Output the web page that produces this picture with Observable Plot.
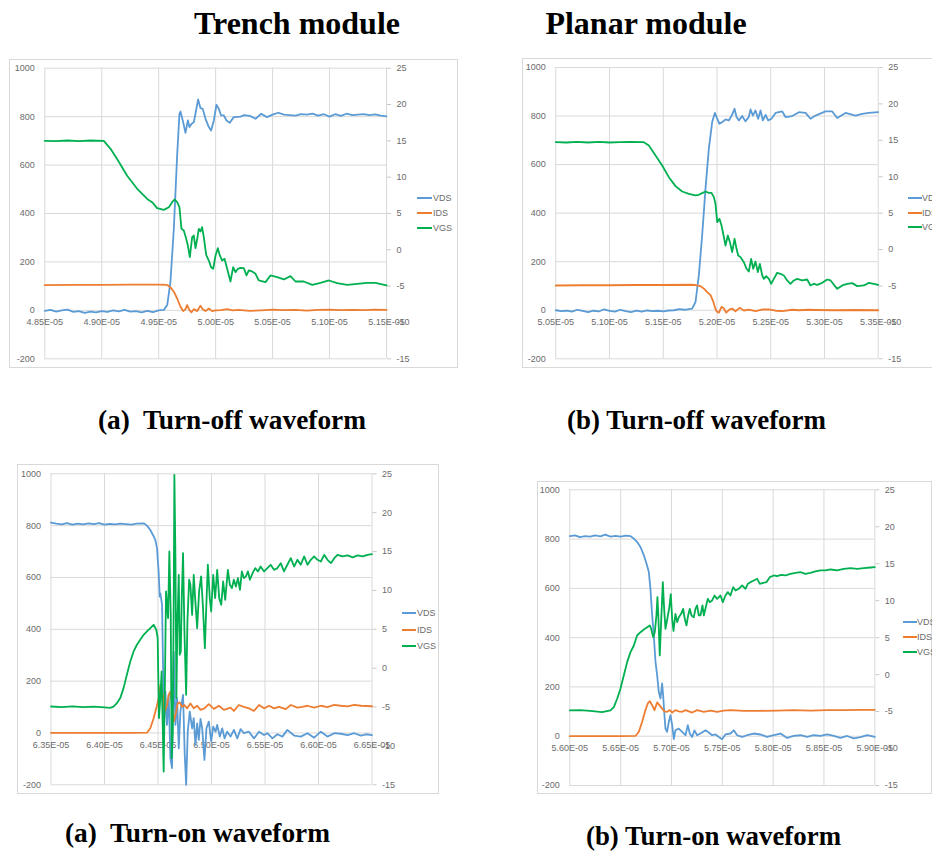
<!DOCTYPE html>
<html>
<head>
<meta charset="utf-8">
<script src="https://cdn.jsdelivr.net/npm/d3@7"></script>
<script src="https://cdn.jsdelivr.net/npm/@observablehq/plot@0.6"></script>
<style>
  html, body { margin: 0; padding: 0; background: #fff; }
  body { position: relative; width: 932px; height: 852px; overflow: hidden; }
  .box { position: absolute; border: 1px solid #d9d9d9; box-sizing: border-box; }
  .chart { position: absolute; }
  .lgline { position: absolute; height: 2px; width: 14px; }
  .lgtext { position: absolute; font: 9px "Liberation Sans", Arial, sans-serif; color: #6b6b6b; line-height: 12px; white-space: nowrap; }
  #txt { position: absolute; left: 0; top: 0; }
</style>
</head>
<body>
<svg id="txt" width="932" height="852">
  <g font-family="'Liberation Serif','Times New Roman',serif" font-weight="bold" fill="#000">
    <text x="297" y="34" text-anchor="middle" font-size="32">Trench module</text>
    <text x="646" y="34" text-anchor="middle" font-size="32">Planar module</text>
    <text x="98" y="429" font-size="27" textLength="268" lengthAdjust="spacingAndGlyphs" style="white-space:pre">(a)  Turn-off waveform</text>
    <text x="567" y="429" font-size="27" textLength="259" lengthAdjust="spacingAndGlyphs" style="white-space:pre">(b) Turn-off waveform</text>
    <text x="65" y="842" font-size="27" textLength="265" lengthAdjust="spacingAndGlyphs" style="white-space:pre">(a)  Turn-on waveform</text>
    <text x="586" y="845" font-size="27" textLength="255" lengthAdjust="spacingAndGlyphs" style="white-space:pre">(b) Turn-on waveform</text>
  </g>
</svg>
<script>
// ---------- axis ticks ----------
const leftTicks = [-200, 0, 200, 400, 600, 800, 1000];
const vgsTicks = [-15, -10, -5, 0, 5, 10, 15, 20, 25];
const trenchOffTicks = [48.5, 49.0, 49.5, 50.0, 50.5, 51.0, 51.5];   // µs
const planarOffTicks = [50.5, 51.0, 51.5, 52.0, 52.5, 53.0, 53.5];
const trenchOnTicks  = [63.5, 64.0, 64.5, 65.0, 65.5, 66.0, 66.5];
const planarOnTicks  = [56.0, 56.5, 57.0, 57.5, 58.0, 58.5, 59.0];
const seriesNames = ["VDS", "IDS", "VGS"];
const seriesColors = ["#5B9BD5", "#ED7D31", "#00B050"];

// ---------- (a) Trench turn-off : [t (µs), value] ----------
const trenchOffVDS = [[48.50,-2],[48.55,2],[48.60,-5],[48.65,0],[48.70,3],[48.75,-6],[48.80,-3],[48.85,-10],[48.90,-5],[48.95,-8],[49.00,-3],[49.05,-6],[49.10,0],[49.15,-4],[49.20,2],[49.25,-5],[49.30,-3],[49.35,-8],[49.40,-2],[49.45,-7],[49.50,0],[49.545,2],[49.575,22],[49.603,118],[49.633,338],[49.662,640],[49.682,812],[49.691,821],[49.715,777],[49.735,733],[49.756,784],[49.770,757],[49.788,770],[49.808,777],[49.823,812],[49.846,871],[49.867,835],[49.887,832],[49.911,791],[49.940,757],[49.960,743],[49.984,784],[50.007,849],[50.028,832],[50.048,805],[50.072,805],[50.095,784],[50.124,775],[50.159,798],[50.218,800],[50.25,806],[50.30,803],[50.35,791],[50.40,812],[50.45,798],[50.50,808],[50.55,816],[50.60,808],[50.65,806],[50.70,804],[50.75,810],[50.80,808],[50.85,812],[50.90,804],[50.95,810],[51.00,800],[51.05,810],[51.10,803],[51.15,812],[51.20,806],[51.25,808],[51.30,810],[51.35,806],[51.40,809],[51.45,804],[51.50,801]];
const trenchOffIDS = [[48.50,104],[48.75,105],[49.00,105],[49.25,106],[49.50,106],[49.574,105],[49.603,95],[49.633,77],[49.662,49],[49.691,15],[49.715,-3],[49.735,5],[49.750,22],[49.770,1],[49.788,-8],[49.808,5],[49.838,-3],[49.867,19],[49.887,5],[49.911,-3],[49.940,8],[49.969,-3],[49.999,0],[50.05,1],[50.101,5],[50.15,0],[50.20,2],[50.30,-2],[50.40,0],[50.50,3],[50.60,1],[50.70,2],[50.80,-1],[50.90,2],[51.00,3],[51.10,1],[51.20,2],[51.30,1],[51.40,3],[51.50,2]];
const trenchOffVGS = [[48.50,15.0],[48.60,14.95],[48.70,15.05],[48.80,14.95],[48.90,15.05],[49.018,15.0],[49.077,13.9],[49.135,12.5],[49.223,10.2],[49.311,8.4],[49.399,7.0],[49.442,6.56],[49.486,5.73],[49.545,5.50],[49.589,5.87],[49.618,6.56],[49.639,6.93],[49.662,6.56],[49.682,5.87],[49.700,2.89],[49.720,2.66],[49.738,1.74],[49.756,0.60],[49.773,-1.01],[49.794,1.74],[49.808,1.97],[49.823,0.23],[49.838,1.51],[49.852,2.89],[49.867,2.52],[49.881,3.12],[49.896,1.74],[49.917,-0.69],[49.940,-1.47],[49.960,-2.39],[49.978,-2.61],[49.999,-0.78],[50.019,0.23],[50.037,-0.78],[50.057,-1.47],[50.078,-1.24],[50.101,-2.61],[50.130,-4.36],[50.154,-2.39],[50.174,-3.07],[50.195,-2.61],[50.218,-2.48],[50.247,-2.52],[50.271,-3.53],[50.291,-2.84],[50.320,-2.98],[50.350,-3.30],[50.379,-4.22],[50.438,-4.45],[50.481,-3.53],[50.540,-3.76],[50.599,-4.08],[50.657,-3.62],[50.701,-4.36],[50.774,-4.36],[50.847,-4.82],[50.920,-4.54],[50.994,-4.22],[51.067,-4.59],[51.155,-4.82],[51.242,-4.68],[51.330,-4.54],[51.403,-4.54],[51.500,-4.91]];

// ---------- (b) Planar turn-off ----------
const planarOffVDS = [[50.50,0],[50.55,-4],[50.60,-2],[50.65,-6],[50.70,2],[50.75,-3],[50.80,-8],[50.85,-2],[50.90,-5],[50.95,4],[51.00,-3],[51.05,-6],[51.10,2],[51.15,-4],[51.20,-8],[51.25,-2],[51.30,-6],[51.35,-1],[51.40,-4],[51.45,-2],[51.50,-5],[51.55,-1],[51.60,0],[51.65,5],[51.70,2],[51.738,5],[51.769,7],[51.800,34],[51.831,144],[51.862,309],[51.893,501],[51.924,665],[51.955,775],[51.980,813],[52.002,789],[52.023,768],[52.048,775],[52.079,786],[52.110,782],[52.141,805],[52.163,830],[52.182,796],[52.203,782],[52.234,800],[52.265,778],[52.296,796],[52.312,827],[52.334,802],[52.358,823],[52.383,789],[52.405,823],[52.427,782],[52.452,805],[52.476,782],[52.507,789],[52.545,813],[52.607,819],[52.638,796],[52.700,800],[52.762,816],[52.824,813],[52.870,789],[52.917,802],[53.010,819],[53.072,819],[53.119,792],[53.196,813],[53.289,802],[53.351,809],[53.413,813],[53.500,816]];
const planarOffIDS = [[50.50,102],[50.75,103],[51.00,103],[51.25,104],[51.50,104],[51.75,105],[51.800,104],[51.847,99],[51.878,89],[51.909,75],[51.940,62],[51.961,41],[51.980,14],[51.995,-4],[52.017,-10],[52.042,14],[52.064,7],[52.085,-10],[52.117,4],[52.141,7],[52.172,-4],[52.210,10],[52.250,-1],[52.296,3],[52.358,-4],[52.420,3],[52.483,4],[52.545,-2],[52.607,-4],[52.70,2],[52.762,0],[52.85,2],[52.917,1],[53.10,0],[53.30,1],[53.50,0]];
const planarOffVGS = [[50.50,14.75],[50.60,14.7],[50.70,14.8],[50.80,14.7],[50.90,14.8],[51.00,14.7],[51.10,14.75],[51.20,14.8],[51.319,14.75],[51.366,14.29],[51.428,12.92],[51.490,11.54],[51.552,9.94],[51.614,8.71],[51.676,7.97],[51.738,7.65],[51.800,7.43],[51.831,7.52],[51.862,7.75],[51.893,7.97],[51.924,7.79],[51.949,7.79],[51.971,7.20],[51.986,6.28],[52.002,3.76],[52.023,4.22],[52.042,3.31],[52.061,1.93],[52.079,0.56],[52.101,1.93],[52.120,1.02],[52.141,-0.35],[52.163,1.48],[52.182,0.10],[52.197,-0.81],[52.219,-1.04],[52.250,-1.73],[52.275,-2.64],[52.296,-3.01],[52.318,-1.27],[52.337,-2.64],[52.358,-1.64],[52.380,-3.10],[52.399,-1.96],[52.421,-3.56],[52.436,-4.02],[52.458,-3.65],[52.483,-4.02],[52.504,-4.70],[52.529,-4.02],[52.560,-3.19],[52.591,-3.33],[52.622,-3.56],[52.653,-4.24],[52.684,-4.70],[52.715,-4.24],[52.746,-4.02],[52.793,-4.24],[52.839,-4.11],[52.870,-4.93],[52.902,-4.70],[52.933,-4.84],[52.979,-4.57],[53.026,-4.11],[53.057,-4.24],[53.088,-4.84],[53.119,-5.39],[53.166,-4.93],[53.212,-4.70],[53.258,-4.61],[53.305,-5.02],[53.367,-4.93],[53.413,-4.57],[53.460,-4.70],[53.500,-4.84]];

// ---------- (a) Trench turn-on ----------
const trenchOnVDS = [[63.50,812],[63.55,808],[63.60,805],[63.65,810],[63.70,804],[63.75,808],[63.80,805],[63.85,809],[63.90,806],[63.95,810],[64.00,804],[64.05,807],[64.10,805],[64.15,808],[64.20,806],[64.25,804],[64.30,808],[64.366,809],[64.397,800],[64.428,783],[64.453,764],[64.475,745],[64.491,712],[64.506,622],[64.516,526],[64.522,539],[64.538,494],[64.547,262],[64.559,57],[64.569,160],[64.584,31],[64.600,147],[64.616,-98],[64.631,-136],[64.647,314],[64.663,31],[64.678,134],[64.694,-59],[64.709,82],[64.734,147],[64.750,-85],[64.763,-200],[64.778,5],[64.797,82],[64.819,18],[64.834,57],[64.850,-46],[64.866,37],[64.881,-27],[64.897,54],[64.913,18],[64.934,-104],[64.953,18],[64.975,44],[64.997,-33],[65.016,24],[65.038,5],[65.053,31],[65.078,-14],[65.100,18],[65.122,-21],[65.147,5],[65.178,-14],[65.209,12],[65.241,-21],[65.272,15],[65.303,-1],[65.350,5],[65.397,-21],[65.444,5],[65.491,-8],[65.522,-1],[65.569,-21],[65.616,-5],[65.663,-14],[65.709,12],[65.772,-10],[65.834,-14],[65.897,-1],[65.959,-18],[66.022,5],[66.084,-14],[66.147,-1],[66.209,-3],[66.272,-8],[66.334,-1],[66.397,-10],[66.444,-5],[66.500,-8]];
const trenchOnIDS = [[63.50,0],[63.75,0],[64.00,0],[64.25,0],[64.397,1],[64.428,18],[64.459,57],[64.484,95],[64.506,134],[64.522,185],[64.544,147],[64.563,82],[64.584,108],[64.600,147],[64.616,160],[64.631,108],[64.647,44],[64.663,69],[64.684,114],[64.703,118],[64.725,101],[64.747,108],[64.772,95],[64.803,114],[64.834,95],[64.866,105],[64.897,89],[64.934,95],[64.975,111],[65.022,93],[65.069,105],[65.116,89],[65.178,98],[65.209,85],[65.256,108],[65.303,101],[65.350,95],[65.397,85],[65.444,108],[65.491,95],[65.538,105],[65.584,95],[65.631,101],[65.694,92],[65.741,108],[65.803,98],[65.850,101],[65.897,105],[65.959,98],[66.022,105],[66.084,100],[66.147,108],[66.209,105],[66.272,103],[66.334,108],[66.397,105],[66.500,103]];
const trenchOnVGS = [[63.50,-4.93],[63.60,-5.0],[63.70,-4.9],[63.80,-5.0],[63.90,-4.95],[64.00,-5.05],[64.053,-5.1],[64.084,-4.95],[64.116,-4.50],[64.147,-3.85],[64.178,-2.57],[64.209,-0.85],[64.241,0.86],[64.272,2.15],[64.303,3.01],[64.334,3.65],[64.366,4.29],[64.397,4.72],[64.428,5.15],[64.459,5.58],[64.484,4.94],[64.497,3.86],[64.509,-6.43],[64.522,-3.85],[64.534,-0.42],[64.544,-7.28],[64.553,-13.29],[64.566,-0.42],[64.575,9.87],[64.584,8.15],[64.594,6.44],[64.606,15.01],[64.619,6.86],[64.628,-11.57],[64.638,-8.14],[64.647,9.01],[64.653,24.87],[64.663,14.15],[64.672,-3.85],[64.681,5.58],[64.694,12.01],[64.703,1.72],[64.713,2.15],[64.722,9.01],[64.734,14.80],[64.747,4.72],[64.763,-3.42],[64.775,6.01],[64.791,11.37],[64.803,10.72],[64.819,6.86],[64.834,12.01],[64.847,9.01],[64.866,5.15],[64.884,9.87],[64.903,11.80],[64.919,8.15],[64.938,2.58],[64.953,8.58],[64.966,13.30],[64.984,9.01],[64.997,7.29],[65.016,12.01],[65.034,9.01],[65.053,12.65],[65.072,9.01],[65.091,8.15],[65.109,11.15],[65.128,8.79],[65.153,12.65],[65.172,10.72],[65.191,10.29],[65.209,11.37],[65.228,10.50],[65.247,11.58],[65.266,10.08],[65.284,12.44],[65.303,11.58],[65.322,11.80],[65.341,12.44],[65.359,11.37],[65.384,12.22],[65.409,12.87],[65.434,12.44],[65.459,13.08],[65.491,12.44],[65.522,12.87],[65.553,13.30],[65.584,12.65],[65.616,12.87],[65.647,13.51],[65.678,12.44],[65.709,13.30],[65.741,14.15],[65.772,13.08],[65.803,13.94],[65.834,13.30],[65.866,14.37],[65.897,13.30],[65.928,13.94],[65.959,14.37],[65.991,13.94],[66.022,13.72],[66.053,14.58],[66.084,13.94],[66.116,13.51],[66.147,14.15],[66.178,14.58],[66.225,14.37],[66.272,14.50],[66.319,14.24],[66.366,14.50],[66.412,14.37],[66.459,14.58],[66.500,14.67]];

// ---------- (b) Planar turn-on ----------
const planarOnVDS = [[56.00,812],[56.05,815],[56.10,808],[56.15,812],[56.20,810],[56.25,815],[56.30,811],[56.35,818],[56.40,810],[56.45,813],[56.50,810],[56.55,814],[56.597,812],[56.630,802],[56.662,789],[56.695,768],[56.728,735],[56.754,701],[56.777,667],[56.793,599],[56.810,491],[56.826,410],[56.843,302],[56.859,248],[56.875,180],[56.892,153],[56.908,214],[56.918,166],[56.931,85],[56.941,31],[56.957,18],[56.974,58],[56.990,85],[57.007,45],[57.023,-12],[57.039,24],[57.072,31],[57.105,18],[57.138,4],[57.161,45],[57.180,11],[57.203,-3],[57.226,24],[57.252,4],[57.285,11],[57.334,24],[57.367,15],[57.400,4],[57.433,7],[57.466,-3],[57.498,-12],[57.531,7],[57.580,11],[57.613,24],[57.646,4],[57.695,-3],[57.744,4],[57.810,11],[57.875,7],[57.941,-3],[58.007,4],[58.072,11],[58.138,-7],[58.203,1],[58.269,4],[58.334,-3],[58.400,4],[58.466,1],[58.531,7],[58.597,1],[58.662,-7],[58.728,1],[58.793,-9],[58.859,-4],[58.925,4],[59.000,-3]];
const planarOnIDS = [[56.00,0],[56.25,0],[56.50,0],[56.646,1],[56.679,18],[56.711,58],[56.744,106],[56.767,133],[56.787,142],[56.810,126],[56.833,106],[56.859,137],[56.882,126],[56.908,112],[56.931,101],[56.957,99],[56.984,106],[57.007,96],[57.039,106],[57.072,101],[57.105,99],[57.138,106],[57.203,96],[57.252,106],[57.318,99],[57.384,104],[57.449,99],[57.515,104],[57.580,106],[57.711,103],[57.843,103],[58.039,104],[58.203,106],[58.367,104],[58.531,106],[58.695,106],[58.859,107],[59.000,107]];
const planarOnVGS = [[56.00,-4.85],[56.10,-4.8],[56.20,-4.9],[56.318,-5.08],[56.400,-4.85],[56.433,-4.40],[56.466,-3.27],[56.498,-1.92],[56.531,-0.12],[56.564,1.69],[56.597,3.04],[56.630,3.94],[56.662,5.29],[56.695,5.74],[56.728,6.10],[56.761,6.42],[56.787,6.65],[56.800,6.20],[56.820,5.07],[56.836,5.74],[56.852,8.00],[56.862,10.48],[56.872,7.55],[56.885,2.59],[56.898,7.0],[56.915,12.51],[56.928,8.9],[56.941,6.20],[56.960,7.6],[56.978,9.0],[56.993,10.9],[57.007,7.5],[57.020,5.9],[57.039,8.22],[57.056,7.10],[57.072,7.77],[57.095,8.22],[57.115,8.90],[57.131,7.55],[57.148,6.65],[57.164,8.00],[57.180,8.90],[57.197,8.00],[57.220,7.77],[57.236,8.90],[57.252,9.35],[57.269,8.00],[57.285,8.00],[57.305,9.35],[57.318,8.00],[57.334,8.90],[57.357,10.25],[57.377,9.80],[57.400,10.03],[57.423,10.70],[57.449,10.25],[57.482,10.70],[57.505,9.80],[57.531,10.70],[57.554,11.16],[57.580,10.70],[57.607,11.83],[57.630,11.38],[57.662,11.61],[57.695,12.06],[57.728,11.61],[57.751,12.28],[57.777,12.51],[57.810,12.73],[57.843,12.96],[57.869,12.28],[57.902,12.42],[57.934,12.51],[57.967,13.18],[58.007,13.41],[58.039,13.32],[58.079,13.50],[58.121,13.41],[58.170,13.64],[58.220,13.77],[58.269,13.86],[58.318,13.64],[58.367,13.77],[58.416,13.95],[58.466,14.09],[58.515,14.09],[58.564,14.22],[58.630,14.09],[58.695,14.31],[58.761,14.40],[58.826,14.31],[58.892,14.40],[58.957,14.49],[59.000,14.54]];

// secondary (VGS) axis mapped onto the primary scale: -15..25 <-> -200..1000
const toLeft = v => (v + 15) * 30 - 200;
const fromLeft = y => (y + 200) / 30 - 15;
const fmtX = d => (d / 10).toFixed(2) + "E-05";
const FONT = "'Liberation Sans', Arial, sans-serif";

function panel(cfg) {
  const xt = cfg.ticks;
  const box = document.createElement("div");
  box.className = "box";
  Object.assign(box.style, {left: cfg.left + "px", top: cfg.top + "px", width: cfg.w + "px", height: cfg.h + "px"});
  document.body.appendChild(box);

  const svg = Plot.plot({
    width: cfg.w, height: cfg.h,
    marginLeft: cfg.ml, marginRight: cfg.mr, marginTop: cfg.mt, marginBottom: cfg.mb,
    x: {domain: [xt[0], xt[xt.length - 1]], axis: null},
    y: {domain: [-200, 1000], axis: null},
    style: {fontFamily: FONT, fontSize: "9px", color: "#6b6b6b", background: "none", overflow: "visible"},
    marks: [
      Plot.gridY(leftTicks, {stroke: "#d9d9d9", strokeOpacity: 1, strokeWidth: 1}),
      Plot.gridX(xt, {stroke: "#d9d9d9", strokeOpacity: 1, strokeWidth: 1}),
      Plot.axisY(leftTicks, {anchor: "left", tickSize: 0, tickPadding: 10, label: null, fontSize: 9, tickFormat: d => String(d)}),
      Plot.axisY(vgsTicks.map(toLeft), {anchor: "right", tickSize: 4, tickPadding: 6, label: null, fontSize: 9, stroke: "#c8c8c8", tickFormat: d => String(Math.round(fromLeft(d)))}),
      Plot.text(xt, {x: d => d, y: 0, text: d => fmtX(d), dy: 12, fontSize: 9, fill: "#6b6b6b"}),
      Plot.line(cfg.vds, {x: d => d[0], y: d => d[1], stroke: seriesColors[0], strokeWidth: 1.8}),
      Plot.line(cfg.ids, {x: d => d[0], y: d => d[1], stroke: seriesColors[1], strokeWidth: 1.8}),
      Plot.line(cfg.vgs, {x: d => d[0], y: d => toLeft(d[1]), stroke: seriesColors[2], strokeWidth: 1.8})
    ]
  });
  svg.classList.add("chart");
  svg.style.left = cfg.left + "px";
  svg.style.top = cfg.top + "px";
  document.body.appendChild(svg);

  // legend
  seriesNames.forEach((name, i) => {
    const y = cfg.legend.ys[i];
    const ln = document.createElement("div");
    ln.className = "lgline";
    Object.assign(ln.style, {left: cfg.legend.lx + "px", top: (y - 1) + "px", background: seriesColors[i], width: cfg.legend.len + "px"});
    document.body.appendChild(ln);
    const tx = document.createElement("div");
    tx.className = "lgtext";
    tx.textContent = name;
    Object.assign(tx.style, {left: cfg.legend.tx + "px", top: (y - 6) + "px"});
    document.body.appendChild(tx);
  });
}

panel({ticks: trenchOffTicks, vds: trenchOffVDS, ids: trenchOffIDS, vgs: trenchOffVGS,
  left: 9, top: 59, w: 449, h: 309, ml: 35.3, mr: 72, mt: 8.7, mb: 9.7,
  legend: {lx: 417, tx: 433, len: 15, ys: [198, 213, 228]}});
panel({ticks: planarOffTicks, vds: planarOffVDS, ids: planarOffIDS, vgs: planarOffVGS,
  left: 522, top: 58, w: 450, h: 310, ml: 33.3, mr: 94.3, mt: 9, mb: 9.7,
  legend: {lx: 908, tx: 922, len: 14, ys: [198, 212.5, 227]}});
panel({ticks: trenchOnTicks, vds: trenchOnVDS, ids: trenchOnIDS, vgs: trenchOnVGS,
  left: 17, top: 464, w: 422, h: 330, ml: 33.5, mr: 67.5, mt: 9.3, mb: 9.7,
  legend: {lx: 402, tx: 417, len: 14, ys: [613, 629.5, 645.5]}});
panel({ticks: planarOnTicks, vds: planarOnVDS, ids: planarOnIDS, vgs: planarOnVGS,
  left: 537, top: 481, w: 395, h: 313, ml: 32.3, mr: 57.7, mt: 8.3, mb: 9,
  legend: {lx: 903, tx: 917, len: 14, ys: [622, 637, 652]}});
</script>
</body>
</html>
